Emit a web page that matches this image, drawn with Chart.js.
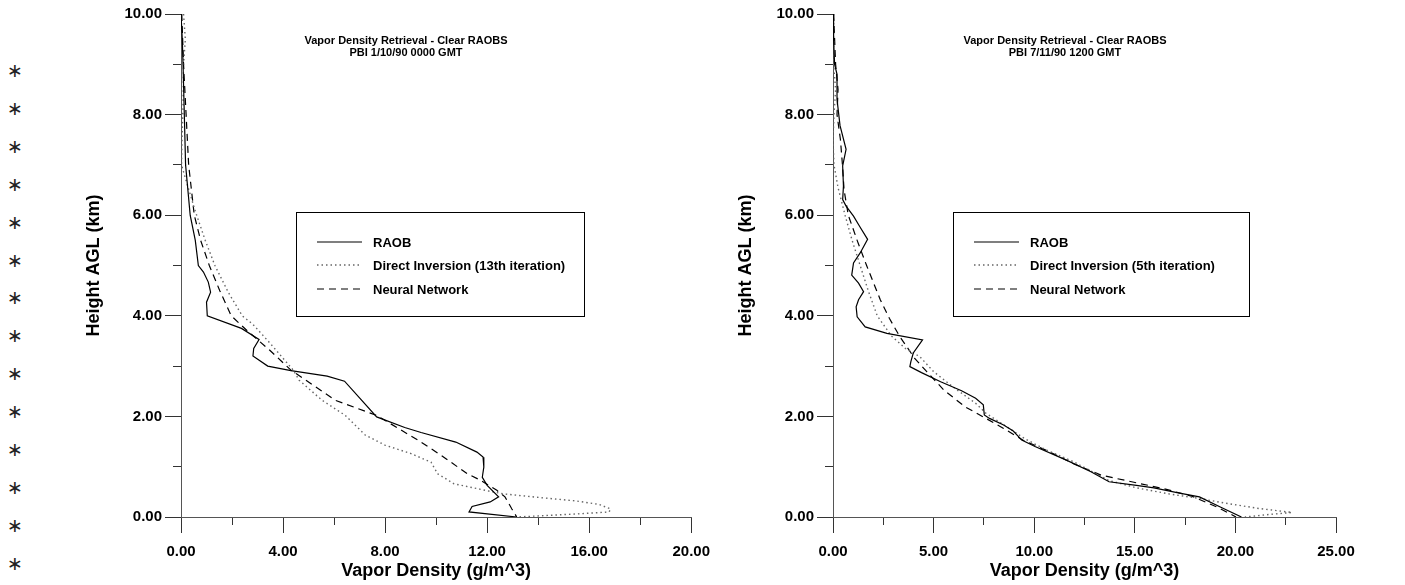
<!DOCTYPE html>
<html>
<head>
<meta charset="utf-8">
<script src="https://cdn.jsdelivr.net/npm/chart.js@4.4.1/dist/chart.umd.min.js"></script>
<style>
  body { margin: 0; background: #fff; width: 1405px; height: 585px; overflow: hidden; position: relative;
         font-family: "Liberation Sans", Arial, sans-serif; }
  canvas { position: absolute; top: 0; }
  #leftChart { left: 0; }
  #rightChart { left: 720px; }
  .stars { position: absolute; left: 7px; top: 52px; font-family: "DejaVu Sans"; font-size: 19px;
           line-height: 37.9px; color: #222; }
  .ptitle { position: absolute; width: 320px; top: 34px; text-align: center; font-weight: bold;
            font-size: 11px; line-height: 12px; color: #000; }
  .legend { position: absolute; top: 212px; height: 103px; border: 1px solid #000; }
  .legend .row { position: absolute; left: 20px; height: 20px; display: flex; align-items: center;
                 font-weight: bold; font-size: 13px; white-space: nowrap; }
  .legend svg { width: 45px; height: 4px; margin-right: 11px; }
</style>
</head>
<body>
<div class="stars" id="stars"></div>
<canvas id="leftChart" width="720" height="585"></canvas>
<canvas id="rightChart" width="685" height="585"></canvas>
<div class="ptitle" style="left:246px">Vapor Density Retrieval - Clear RAOBS<br>PBI 1/10/90 0000 GMT</div>
<div class="ptitle" style="left:905px">Vapor Density Retrieval - Clear RAOBS<br>PBI 7/11/90 1200 GMT</div>
<div class="legend" id="legendLeft" style="left:296px; width:287px"></div>
<div class="legend" id="legendRight" style="left:953px; width:295px"></div>
<script>
// Données : densité (g/m^3) et hauteur (km)
const seriesNames = ['RAOB', 'Neural Network'];
const diNameLeft = 'Direct Inversion (13th iteration)';
const diNameRight = 'Direct Inversion (5th iteration)';

// Graphique de gauche : PBI 1/10/90
const raobLeftDensity = [0.00, 0.05, 0.08, 0.13, 0.18, 0.36, 0.56, 0.68, 0.88, 1.07, 1.16, 1.00, 1.03, 2.37, 3.06, 2.85, 2.82, 3.40, 4.31, 5.73, 6.41, 7.67, 8.77, 9.41, 10.77, 11.60, 11.84, 11.87, 11.81, 12.00, 12.45, 12.12, 11.41, 11.29, 13.16];
const raobLeftHeight = [10.0, 9.5, 9.0, 8.0, 7.0, 6.0, 5.5, 5.0, 4.87, 4.67, 4.47, 4.27, 4.0, 3.75, 3.53, 3.35, 3.2, 3.0, 2.91, 2.80, 2.70, 1.99, 1.78, 1.68, 1.49, 1.29, 1.19, 0.99, 0.79, 0.63, 0.40, 0.30, 0.21, 0.10, 0.0];
const diLeftDensity = [0.10, 0.17, 0.10, 0.08, 0.04, 0.02, 0.17, 0.56, 0.95, 1.33, 1.85, 2.40, 2.82, 3.50, 4.40, 4.63, 5.53, 6.44, 7.22, 7.99, 9.02, 9.80, 10.06, 10.70, 12.12, 12.64, 14.19, 15.48, 16.39, 16.84, 16.78, 15.48, 14.32, 13.16];
const diLeftHeight = [10.0, 9.5, 9.0, 8.2, 7.5, 7.0, 6.74, 6.08, 5.5, 5.0, 4.47, 4.0, 3.83, 3.45, 2.92, 2.72, 2.32, 2.02, 1.63, 1.43, 1.26, 1.09, 0.86, 0.66, 0.51, 0.46, 0.38, 0.32, 0.25, 0.16, 0.10, 0.06, 0.03, 0.0];
const nnLeftDensity = [0.03, 0.10, 0.20, 0.30, 0.52, 0.77, 1.11, 1.52, 1.97, 2.60, 3.47, 4.31, 6.05, 7.67, 9.28, 10.19, 11.22, 11.74, 12.38, 12.70, 12.97, 13.16];
const nnLeftHeight = [10.0, 9.0, 8.0, 7.0, 6.0, 5.5, 5.0, 4.5, 4.0, 3.7, 3.32, 2.92, 2.32, 2.02, 1.53, 1.23, 0.86, 0.73, 0.53, 0.40, 0.16, 0.0];

// Graphique de droite : PBI 7/11/90
const raobRightDensity = [0.00, 0.03, 0.08, 0.20, 0.20, 0.35, 0.65, 0.48, 0.52, 0.48, 0.65, 1.02, 1.32, 1.72, 1.35, 1.02, 0.93, 1.27, 1.52, 1.27, 1.15, 1.20, 1.60, 2.68, 4.45, 3.99, 3.87, 3.82, 4.40, 5.35, 6.39, 7.09, 7.47, 7.52, 7.78, 8.48, 8.96, 9.38, 10.04, 11.60, 12.82, 13.72, 15.08, 15.95, 17.16, 18.21, 19.25, 20.30];
const raobRightHeight = [10.0, 9.5, 9.0, 8.8, 8.3, 7.78, 7.31, 6.98, 6.58, 6.31, 6.18, 5.98, 5.78, 5.52, 5.25, 5.05, 4.81, 4.65, 4.48, 4.32, 4.18, 3.98, 3.78, 3.65, 3.52, 3.26, 3.09, 2.99, 2.87, 2.69, 2.51, 2.36, 2.23, 2.03, 1.96, 1.83, 1.71, 1.53, 1.40, 1.13, 0.90, 0.70, 0.63, 0.58, 0.48, 0.40, 0.20, 0.0];
const diRightDensity = [0.03, 0.03, 0.13, 0.05, 0.00, 0.05, 0.25, 0.60, 0.95, 1.35, 1.75, 2.20, 2.90, 3.60, 4.31, 5.00, 6.05, 7.09, 7.61, 8.65, 9.52, 10.56, 11.95, 13.69, 15.08, 16.82, 18.21, 19.42, 21.16, 22.81, 21.68, 20.47];
const diRightHeight = [10.0, 9.0, 8.5, 8.0, 7.5, 7.0, 6.55, 6.0, 5.5, 5.0, 4.5, 4.0, 3.6, 3.35, 3.19, 2.89, 2.56, 2.26, 2.06, 1.79, 1.56, 1.34, 1.10, 0.73, 0.58, 0.45, 0.37, 0.28, 0.17, 0.09, 0.05, 0.0];
const nnRightDensity = [0.03, 0.13, 0.25, 0.20, 0.37, 0.47, 0.55, 0.76, 1.20, 1.67, 2.35, 2.80, 3.30, 4.05, 4.66, 5.52, 6.57, 7.60, 8.48, 9.43, 10.74, 11.95, 13.34, 15.08, 16.47, 17.86, 19.08, 20.03];
const nnRightHeight = [10.0, 9.0, 8.5, 8.0, 7.5, 7.0, 6.5, 6.0, 5.5, 5.0, 4.32, 3.95, 3.6, 3.16, 2.89, 2.52, 2.19, 1.96, 1.76, 1.53, 1.30, 1.06, 0.83, 0.68, 0.56, 0.41, 0.20, 0.0];

// Axes
const heightMax = 10, heightMajor = 2, heightMinor = 1;
const densityMaxLeft = 20, densityMajorLeft = 4, densityMinorLeft = 2;
const densityMaxRight = 25, densityMajorRight = 5, densityMinorRight = 2.5;

const FONT = '"Liberation Sans", Arial, sans-serif';
const styles = {
    raob: { color: '#000', dash: [], width: 1.2 },
    di: { color: '#666', dash: [1.5, 3], width: 1.4 },
    nn: { color: '#000', dash: [7, 5], width: 1.2 }
};

function toPoints(xs, ys) {
    return xs.map((v, i) => ({ x: v, y: ys[i] }));
}

function makeDataset(label, xs, ys, st) {
    return {
        label: label,
        data: toPoints(xs, ys),
        showLine: true,
        borderColor: st.color,
        borderDash: st.dash,
        borderWidth: st.width,
        pointRadius: 0,
        tension: 0,
        fill: false
    };
}

function makeChart(id, datasets, xMax, xMajor, xMinor, yWidth, yTitlePad, padRight) {
    const ctx = document.getElementById(id).getContext('2d');
    return new Chart(ctx, {
        type: 'scatter',
        data: { datasets: datasets },
        options: {
            responsive: false,
            animation: false,
            devicePixelRatio: 1,
            layout: { padding: { top: 14, right: padRight, bottom: 0, left: 0 } },
            plugins: { legend: { display: false }, tooltip: { enabled: false } },
            scales: {
                x: {
                    type: 'linear', position: 'bottom', weight: 1, min: 0, max: xMax,
                    afterFit: s => { s.height = 68; },
                    border: { color: '#555', width: 1 },
                    grid: { drawOnChartArea: false, drawTicks: true, tickLength: 16, color: '#333' },
                    ticks: { stepSize: xMajor, autoSkip: false, maxRotation: 0, padding: 10, color: '#000',
                             font: { family: FONT, size: 15, weight: 'bold' }, callback: v => v.toFixed(2) },
                    title: { display: true, text: 'Vapor Density (g/m^3)', color: '#000',
                             font: { family: FONT, size: 18, weight: 'bold' }, padding: { top: 0, bottom: 3 } }
                },
                x2: {
                    type: 'linear', position: 'bottom', weight: 0, min: 0, max: xMax,
                    afterFit: s => { s.height = 0; },
                    border: { display: false },
                    grid: { drawOnChartArea: false, drawTicks: true, tickLength: 8, color: '#333' },
                    ticks: { stepSize: xMinor, autoSkip: false, display: false }
                },
                y: {
                    type: 'linear', position: 'left', weight: 1, min: 0, max: heightMax,
                    afterFit: s => { s.width = yWidth; },
                    border: { color: '#555', width: 1 },
                    grid: { drawOnChartArea: false, drawTicks: true, tickLength: 16, color: '#333' },
                    ticks: { stepSize: heightMajor, autoSkip: false, padding: 3, color: '#000',
                             font: { family: FONT, size: 15, weight: 'bold' }, callback: v => v.toFixed(2) },
                    title: { display: true, text: 'Height AGL (km)', color: '#000',
                             font: { family: FONT, size: 18, weight: 'bold' }, padding: { top: yTitlePad, bottom: 0 } }
                },
                y2: {
                    type: 'linear', position: 'left', weight: 0, min: 0, max: heightMax,
                    afterFit: s => { s.width = 0; },
                    border: { display: false },
                    grid: { drawOnChartArea: false, drawTicks: true, tickLength: 8, color: '#333' },
                    ticks: { stepSize: heightMinor, autoSkip: false, display: false }
                }
            }
        }
    });
}

function buildLegend(id, names) {
    const box = document.getElementById(id);
    const keys = ['raob', 'di', 'nn'];
    const rowsY = [19, 42, 66];
    names.forEach((name, i) => {
        const st = styles[keys[i]];
        const row = document.createElement('div');
        row.className = 'row';
        row.style.top = rowsY[i] + 'px';
        row.innerHTML = `<svg viewBox="0 0 45 4"><line x1="0" y1="2" x2="45" y2="2" stroke="${st.color}"
            stroke-width="${st.width}" stroke-dasharray="${st.dash.join(' ')}"/></svg><span>${name}</span>`;
        box.appendChild(row);
    });
}

document.getElementById('stars').innerHTML = Array(14).fill('∗').join('<br>');

makeChart('leftChart', [
    makeDataset(seriesNames[0], raobLeftDensity, raobLeftHeight, styles.raob),
    makeDataset(diNameLeft, diLeftDensity, diLeftHeight, styles.di),
    makeDataset(seriesNames[1], nnLeftDensity, nnLeftHeight, styles.nn)
], densityMaxLeft, densityMajorLeft, densityMinorLeft, 181, 83, 23);

makeChart('rightChart', [
    makeDataset(seriesNames[0], raobRightDensity, raobRightHeight, styles.raob),
    makeDataset(diNameRight, diRightDensity, diRightHeight, styles.di),
    makeDataset(seriesNames[1], nnRightDensity, nnRightHeight, styles.nn)
], densityMaxRight, densityMajorRight, densityMinorRight, 113, 15, 69);

buildLegend('legendLeft', [seriesNames[0], diNameLeft, seriesNames[1]]);
buildLegend('legendRight', [seriesNames[0], diNameRight, seriesNames[1]]);
</script>
</body>
</html>
